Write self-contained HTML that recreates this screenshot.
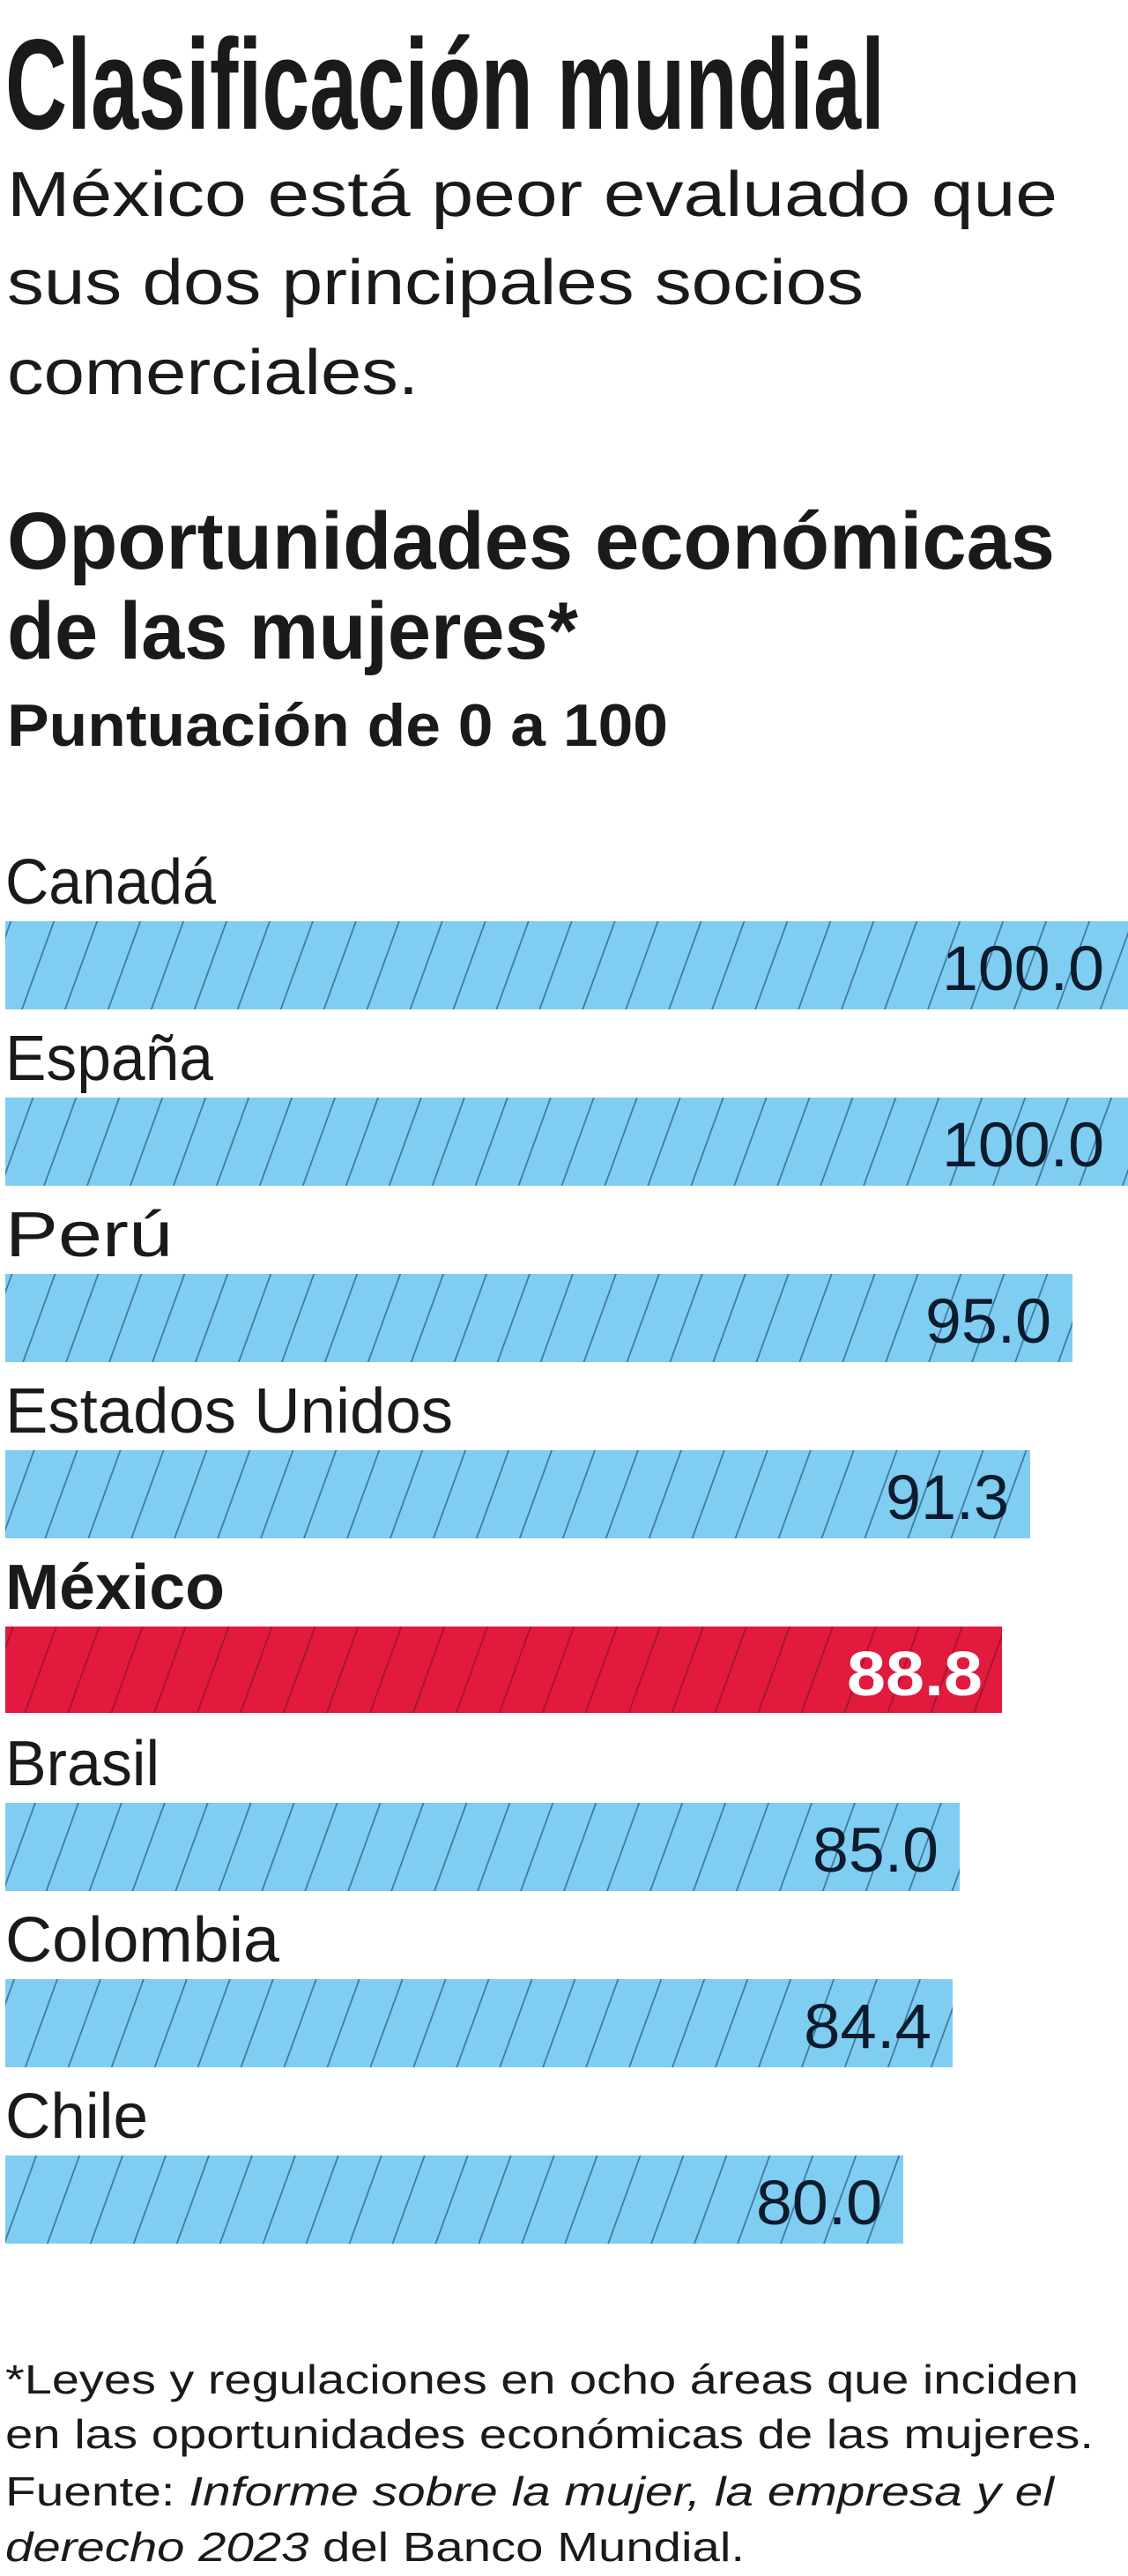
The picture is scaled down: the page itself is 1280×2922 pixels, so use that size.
<!DOCTYPE html>
<html><head><meta charset="utf-8"><style>
html,body{margin:0;padding:0;background:#fff;}
svg{display:block;}
text{font-family:"Liberation Sans",sans-serif;}
</style></head><body>
<svg width="1280" height="2922" viewBox="0 0 1280 2922" xmlns="http://www.w3.org/2000/svg">
<defs>
<pattern id="hb" patternUnits="userSpaceOnUse" width="46" height="20" patternTransform="rotate(20)">
<rect width="46" height="20" fill="#7fcdf1"/>
<line x1="1" y1="0" x2="1" y2="20" stroke="#3a6f98" stroke-width="1.6"/>
</pattern>
<pattern id="hr" patternUnits="userSpaceOnUse" width="46" height="20" patternTransform="rotate(20)">
<rect width="46" height="20" fill="#e11a3e"/>
<line x1="1" y1="0" x2="1" y2="20" stroke="#9a1530" stroke-width="1.6"/>
</pattern>
</defs>
<rect width="1280" height="2922" fill="#fff"/>
<g fill="#1a1a1a">
<text x="6" y="146" font-size="146" font-weight="bold" textLength="998" lengthAdjust="spacingAndGlyphs">Clasificación mundial</text>
<text x="8" y="245" font-size="72" textLength="1192" lengthAdjust="spacingAndGlyphs">México está peor evaluado que</text>
<text x="8" y="345" font-size="72" textLength="972" lengthAdjust="spacingAndGlyphs">sus dos principales socios</text>
<text x="8" y="447" font-size="72" textLength="467" lengthAdjust="spacingAndGlyphs">comerciales.</text>
<text x="8" y="645" font-size="92" font-weight="bold" textLength="1189" lengthAdjust="spacingAndGlyphs">Oportunidades económicas</text>
<text x="8" y="747" font-size="92" font-weight="bold" textLength="648" lengthAdjust="spacingAndGlyphs">de las mujeres*</text>
<text x="8" y="846" font-size="68" font-weight="bold" textLength="750" lengthAdjust="spacingAndGlyphs">Puntuación de 0 a 100</text>

<text x="6" y="1025" font-size="72" textLength="239" lengthAdjust="spacingAndGlyphs">Canadá</text>
<rect x="6" y="1045" width="1274" height="100" fill="url(#hb)"/>
<text x="1253" y="1123" font-size="71" text-anchor="end" textLength="184" lengthAdjust="spacingAndGlyphs" fill="#0d1b2e">100.0</text>

<text x="6" y="1225" font-size="72" textLength="236" lengthAdjust="spacingAndGlyphs">España</text>
<rect x="6" y="1245" width="1274" height="100" fill="url(#hb)"/>
<text x="1253" y="1323" font-size="71" text-anchor="end" textLength="184" lengthAdjust="spacingAndGlyphs" fill="#0d1b2e">100.0</text>

<text x="6" y="1425" font-size="72" textLength="190" lengthAdjust="spacingAndGlyphs">Perú</text>
<rect x="6" y="1445" width="1211" height="100" fill="url(#hb)"/>
<text x="1193" y="1523" font-size="71" text-anchor="end" textLength="143" lengthAdjust="spacingAndGlyphs" fill="#0d1b2e">95.0</text>

<text x="6" y="1625" font-size="72" textLength="508" lengthAdjust="spacingAndGlyphs">Estados Unidos</text>
<rect x="6" y="1645" width="1163" height="100" fill="url(#hb)"/>
<text x="1145" y="1723" font-size="71" text-anchor="end" textLength="140" lengthAdjust="spacingAndGlyphs" fill="#0d1b2e">91.3</text>

<text x="6" y="1825" font-size="72" font-weight="bold" textLength="249" lengthAdjust="spacingAndGlyphs">México</text>
<rect x="6" y="1845" width="1131" height="98" fill="url(#hr)"/>
<text x="1115" y="1923" font-size="71" font-weight="bold" text-anchor="end" textLength="154" lengthAdjust="spacingAndGlyphs" fill="#ffffff">88.8</text>

<text x="6" y="2025" font-size="72" textLength="175" lengthAdjust="spacingAndGlyphs">Brasil</text>
<rect x="6" y="2045" width="1083" height="100" fill="url(#hb)"/>
<text x="1065" y="2123" font-size="71" text-anchor="end" textLength="143" lengthAdjust="spacingAndGlyphs" fill="#0d1b2e">85.0</text>

<text x="6" y="2225" font-size="72" textLength="311" lengthAdjust="spacingAndGlyphs">Colombia</text>
<rect x="6" y="2245" width="1075" height="100" fill="url(#hb)"/>
<text x="1057" y="2323" font-size="71" text-anchor="end" textLength="145" lengthAdjust="spacingAndGlyphs" fill="#0d1b2e">84.4</text>

<text x="6" y="2425" font-size="72" textLength="162" lengthAdjust="spacingAndGlyphs">Chile</text>
<rect x="6" y="2445" width="1019" height="100" fill="url(#hb)"/>
<text x="1001" y="2523" font-size="71" text-anchor="end" textLength="143" lengthAdjust="spacingAndGlyphs" fill="#0d1b2e">80.0</text>

<text x="6" y="2715" font-size="46" textLength="1218" lengthAdjust="spacingAndGlyphs">*Leyes y regulaciones en ocho áreas que inciden</text>
<text x="6" y="2777" font-size="46" textLength="1235" lengthAdjust="spacingAndGlyphs">en las oportunidades económicas de las mujeres.</text>
<text x="6" y="2842" font-size="46" textLength="1190" lengthAdjust="spacingAndGlyphs">Fuente: <tspan font-style="italic">Informe sobre la mujer, la empresa y el</tspan></text>
<text x="6" y="2905" font-size="46" textLength="839" lengthAdjust="spacingAndGlyphs"><tspan font-style="italic">derecho 2023</tspan> del Banco Mundial.</text>
</g>
</svg>
</body></html>
